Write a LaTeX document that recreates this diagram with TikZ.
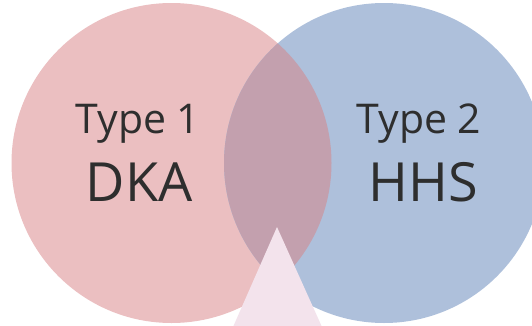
\documentclass[tikz,border=0pt]{standalone}
\usepackage{fontspec}
\setmainfont{Open Sans}
\definecolor{pinkset}{HTML}{EBBFC1}
\definecolor{blueset}{HTML}{AEC0DB}
\definecolor{bothset}{HTML}{C3A0AE}
\definecolor{wedge}{HTML}{F3E3EC}
\definecolor{ink}{HTML}{2E2E2E}
\begin{document}
\begin{tikzpicture}[x=1pt,y=1pt,
  kindlabel/.style={text=ink,font=\fontsize{41}{41}\selectfont,anchor=base,inner sep=0pt},
  setlabel/.style={text=ink,font=\fontsize{54}{54}\selectfont,anchor=base,inner sep=0pt}]
\useasboundingbox (0,0) rectangle (532,325);
% the two sets
\fill[pinkset] (171.5,162) circle (160);
\fill[blueset] (384,162) circle (160);
% their intersection
\begin{scope}
  \clip (171.5,162) circle (160);
  \fill[bothset] (384,162) circle (160);
\end{scope}
% pointer below the overlap
\fill[wedge] (277,98) -- (322,-2) -- (233,-2) -- cycle;
% labels
\node[kindlabel] (t1) at (138,192) {Type 1};
\node[setlabel] (dka) at (139,124) {DKA};
\node[kindlabel] (t2) at (419,192) {Type 2};
\node[setlabel] (hhs) at (423.5,124) {HHS};
\end{tikzpicture}
\end{document}
